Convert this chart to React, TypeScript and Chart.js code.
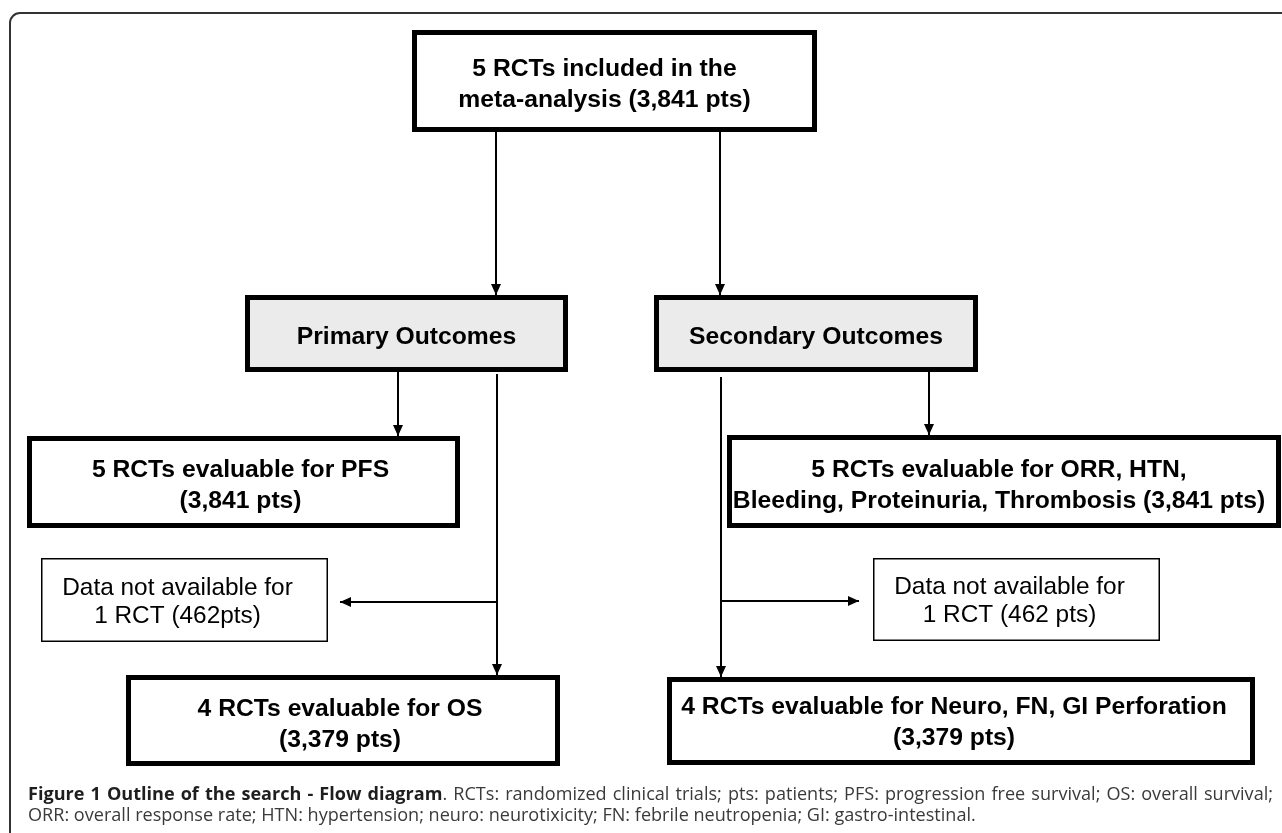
import React, { useEffect, useRef } from "react";
import { Chart, registerables } from "chart.js";

Chart.register(...registerables);

const W = 1282;
const H = 833;

// ---- Diagram content (data) ----
const nodeIds = ["top", "primary", "secondary", "pfs", "orr", "dataL", "dataR", "os", "bottomR"];
const nodeText: string[][] = [
  ["5 RCTs included in the", "meta-analysis (3,841 pts)"],
  ["Primary Outcomes"],
  ["Secondary Outcomes"],
  ["5 RCTs evaluable for PFS", "(3,841 pts)"],
  ["5 RCTs evaluable for ORR, HTN,", "Bleeding, Proteinuria, Thrombosis (3,841 pts)"],
  ["Data not available for", "1 RCT (462pts)"],
  ["Data not available for", "1 RCT (462 pts)"],
  ["4 RCTs evaluable for OS", "(3,379 pts)"],
  ["4 RCTs evaluable for Neuro, FN, GI Perforation", "(3,379 pts)"],
];
const nodeBold = [true, true, true, true, true, false, false, true, true];

// connectors: from node -> to node (ids)
const connectorFrom = ["top", "top", "primary", "primary", "primary", "secondary", "secondary", "secondary"];
const connectorTo = ["primary", "secondary", "pfs", "os", "dataL", "orr", "bottomR", "dataR"];

const captionBold = "Figure 1 Outline of the search - Flow diagram";
const captionRest1 = ". RCTs: randomized clinical trials; pts: patients; PFS: progression free survival; OS: overall survival;";
const captionLine2 = "ORR: overall response rate; HTN: hypertension; neuro: neurotixicity; FN: febrile neutropenia; GI: gastro-intestinal.";

// ---- Layout (diagram units = pixel grid of the 1282x833 figure) ----
const nodeRects: number[][] = [
  [412, 30, 817, 132],
  [245, 295, 568, 372],
  [654, 295, 978, 372],
  [27, 436, 460, 528],
  [727, 435, 1281, 528],
  [41, 558, 328, 642],
  [873, 558, 1160, 641],
  [126, 675, 560, 766],
  [667, 677, 1255, 765],
];
const nodeTextDx = [-10, 0, 0, -3, -5, -7, -7, -3, -7];
const nodeTextDy = [2, 2, 2, 2, 2, 0, 0, 2, 0];
const connectorPaths: number[][][] = [
  [[496, 132], [496, 295]],
  [[720, 132], [720, 295]],
  [[398, 372], [398, 436]],
  [[497, 374], [497, 675]],
  [[497, 602], [340, 602]],
  [[929, 372], [929, 435]],
  [[721, 377], [721, 677]],
  [[721, 601], [859, 601]],
];

// ---- Styles ----
const nodeFill = ["#ffffff", "#ebebeb", "#ebebeb", "#ffffff", "#ffffff", "#ffffff", "#ffffff", "#ffffff", "#ffffff"];
const nodeBorder = [5, 5, 5, 5, 5, 1.5, 1.5, 5, 5];
const BOX_FONT = '"Liberation Sans", Arial, Helvetica, sans-serif';
const CAP_FONT = '"Open Sans", "Noto Sans", sans-serif';

const diagramPlugin = {
  id: "diagram",
  beforeDatasetsDraw(chart: any) {
    const { ctx } = chart;
    const sx = chart.scales.x;
    const sy = chart.scales.y;
    const px = (v: number) => sx.getPixelForValue(v);
    const py = (v: number) => sy.getPixelForValue(v);
    ctx.save();
    // outer frame (top + left with rounded corner)
    ctx.strokeStyle = "#333333";
    ctx.lineWidth = 2;
    const fx = px(10);
    const fy = py(13);
    const r = 10;
    ctx.beginPath();
    ctx.moveTo(fx, py(H + 5));
    ctx.lineTo(fx, fy + r);
    ctx.arcTo(fx, fy, fx + r, fy, r);
    ctx.lineTo(px(W + 5), fy);
    ctx.stroke();

    // boxes
    nodeRects.forEach((rc, i) => {
      const x0 = px(rc[0]);
      const y0 = py(rc[1]);
      const x1 = px(rc[2]);
      const y1 = py(rc[3]);
      const bw = nodeBorder[i];
      ctx.fillStyle = nodeFill[i];
      ctx.fillRect(x0, y0, x1 - x0, y1 - y0);
      ctx.lineWidth = bw;
      ctx.lineJoin = "miter";
      ctx.strokeStyle = "#000000";
      ctx.strokeRect(x0 + bw / 2, y0 + bw / 2, x1 - x0 - bw, y1 - y0 - bw);
    });
    ctx.restore();
  },
  afterDatasetsDraw(chart: any) {
    const { ctx } = chart;
    const sx = chart.scales.x;
    const sy = chart.scales.y;
    const px = (v: number) => sx.getPixelForValue(v);
    const py = (v: number) => sy.getPixelForValue(v);
    ctx.save();

    // arrowheads
    ctx.fillStyle = "#000000";
    connectorPaths.forEach((path) => {
      const a = path[path.length - 2];
      const b = path[path.length - 1];
      const ax = px(a[0]), ay = py(a[1]), bx = px(b[0]), by = py(b[1]);
      const ang = Math.atan2(by - ay, bx - ax);
      const len = 11;
      const hw = 5;
      ctx.beginPath();
      ctx.moveTo(bx, by);
      ctx.lineTo(bx - len * Math.cos(ang) + hw * Math.sin(ang), by - len * Math.sin(ang) - hw * Math.cos(ang));
      ctx.lineTo(bx - len * Math.cos(ang) - hw * Math.sin(ang), by - len * Math.sin(ang) + hw * Math.cos(ang));
      ctx.closePath();
      ctx.fill();
    });

    // box texts
    ctx.textAlign = "center";
    ctx.textBaseline = "alphabetic";
    ctx.fillStyle = "#000000";
    nodeText.forEach((lines, i) => {
      const rc = nodeRects[i];
      const bold = nodeBold[i];
      ctx.font = bold ? `bold 24.7px ${BOX_FONT}` : `24.4px ${BOX_FONT}`;
      const lh = bold ? 31 : 28;
      const cx = px((rc[0] + rc[2]) / 2 + nodeTextDx[i]);
      const cyv = (rc[1] + rc[3]) / 2 + nodeTextDy[i];
      lines.forEach((ln, j) => {
        const yv = cyv + (j - (lines.length - 1) / 2) * lh + 8.7;
        ctx.fillText(ln, cx, py(yv));
      });
    });

    // caption
    ctx.textAlign = "left";
    const baseFs = 17;
    ctx.font = `${baseFs}px ${CAP_FONT}`;
    const natural2 = ctx.measureText(captionLine2).width;
    let fs = baseFs * 948 / natural2;
    fs = Math.max(15, Math.min(19, fs));
    const regFont = `${fs}px ${CAP_FONT}`;
    const boldFont = `bold ${fs}px ${CAP_FONT}`;

    // build words of line 1 as runs
    type Run = { t: string; b: boolean };
    const words: Run[][] = captionBold.split(" ").map((w) => [{ t: w, b: true }]);
    const restTokens = captionRest1.split(" ");
    words[words.length - 1].push({ t: restTokens[0], b: false });
    restTokens.slice(1).forEach((w) => words.push([{ t: w, b: false }]));
    const wordWidth = (wd: Run[]) =>
      wd.reduce((s, r) => {
        ctx.font = r.b ? boldFont : regFont;
        return s + ctx.measureText(r.t).width;
      }, 0);
    const widths = words.map(wordWidth);
    const totalW = widths.reduce((s, v) => s + v, 0);
    const left = 28;
    const right = 1273;
    const gap = (right - left - totalW) / (words.length - 1);
    let cur = left;
    const y1 = py(800);
    words.forEach((wd, i) => {
      let xx = cur;
      wd.forEach((r) => {
        ctx.font = r.b ? boldFont : regFont;
        ctx.fillStyle = r.b ? "#1e1e1e" : "#3a3a3a";
        ctx.fillText(r.t, px(xx), y1);
        xx += ctx.measureText(r.t).width;
      });
      cur += widths[i] + gap;
    });
    ctx.font = regFont;
    ctx.fillStyle = "#3a3a3a";
    ctx.fillText(captionLine2, px(left), py(821));

    ctx.restore();
  },
};

export default function App() {
  const canvasRef = useRef<HTMLCanvasElement | null>(null);

  useEffect(() => {
    const canvas = canvasRef.current;
    if (!canvas) return;
    const datasets = connectorPaths.map((path, i) => ({
      label: `${connectorFrom[i]}→${connectorTo[i]}`,
      data: path.map(([x, y]) => ({ x, y })),
      showLine: true,
      borderColor: "#000000",
      backgroundColor: "#000000",
      borderWidth: 2,
      pointRadius: 0,
      pointHoverRadius: 0,
      fill: false,
      tension: 0,
    }));
    const chart = new Chart(canvas, {
      type: "scatter",
      data: { datasets },
      options: {
        animation: false,
        responsive: false,
        devicePixelRatio: 1,
        layout: { padding: 0 },
        events: [],
        plugins: {
          legend: { display: false },
          tooltip: { enabled: false },
          title: { display: false },
        },
        scales: {
          x: { type: "linear", min: 0, max: W, display: false },
          y: { type: "linear", min: 0, max: H, reverse: true, display: false },
        },
      },
      plugins: [diagramPlugin],
    } as any);
    return () => chart.destroy();
  }, []);

  return (
    <div style={{ position: "fixed", left: 0, top: 0, width: W, height: H, background: "#ffffff" }}>
      <canvas ref={canvasRef} width={W} height={H} style={{ display: "block" }} />
    </div>
  );
}
